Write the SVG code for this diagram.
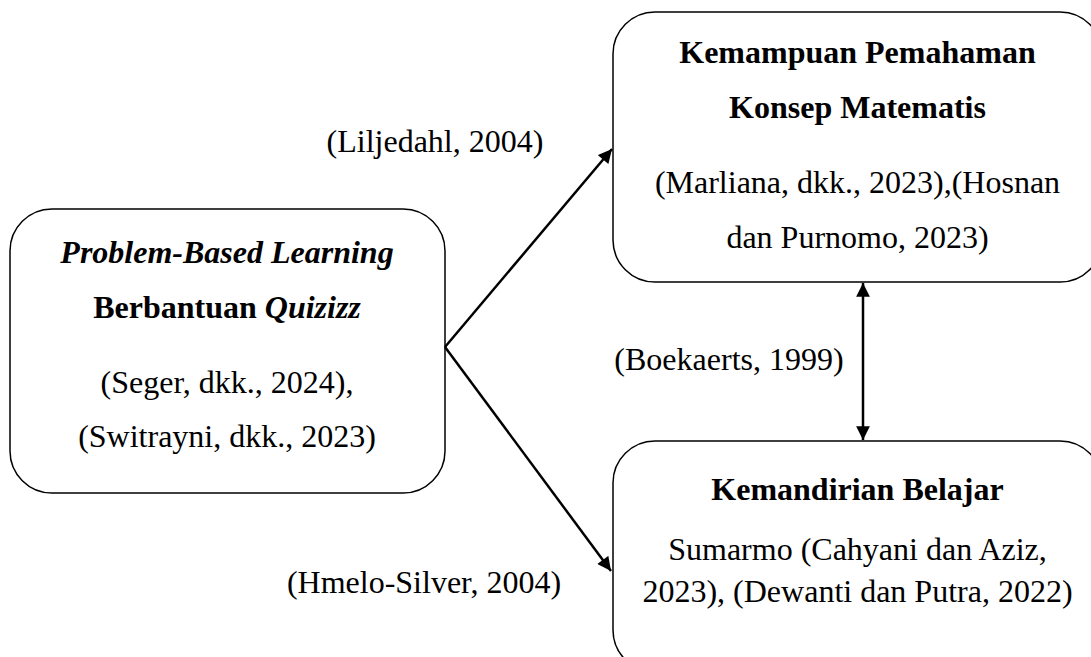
<svg xmlns="http://www.w3.org/2000/svg" width="1091" height="657" viewBox="0 0 1091 657">
<style>
.box{fill:#fff;stroke:#000;stroke-width:1.5}
text{font-family:'Liberation Serif',serif;font-size:32px;fill:#000;text-anchor:middle}
.b{font-weight:bold}
.i{font-style:italic}
.conn{stroke:#000;stroke-width:2.5;fill:none}
</style>
<defs>
<marker id="ah" viewBox="0 0 10 10" refX="10" refY="5" markerWidth="6" markerHeight="5.5" markerUnits="strokeWidth" orient="auto-start-reverse">
<path d="M0,0 L10,5 L0,10 z" fill="#000"/>
</marker>
</defs>
<rect width="1091" height="657" fill="#fff"/>
<g id="node-pbl">
<rect class="box" x="10" y="209" width="435" height="284" rx="42" ry="42"/>
<text x="227" y="263" class="b i" font-family="Liberation Serif">Problem-Based Learning</text>
<text x="227" y="318" class="b" font-family="Liberation Serif">Berbantuan <tspan class="i">Quizizz</tspan></text>
<text x="227" y="393" font-family="Liberation Serif">(Seger, dkk., 2024),</text>
<text x="227" y="447" font-family="Liberation Serif">(Switrayni, dkk., 2023)</text>
</g>
<g id="node-kpkm">
<rect class="box" x="613" y="12" width="489" height="270" rx="42" ry="42"/>
<text x="857.5" y="63" class="b" font-family="Liberation Serif">Kemampuan Pemahaman</text>
<text x="857.5" y="118" class="b" font-family="Liberation Serif">Konsep Matematis</text>
<text x="857.5" y="193" font-family="Liberation Serif">(Marliana, dkk., 2023),(Hosnan</text>
<text x="857.5" y="248" font-family="Liberation Serif">dan Purnomo, 2023)</text>
</g>
<g id="node-kb">
<rect class="box" x="613" y="441" width="489" height="231" rx="42" ry="42"/>
<text x="857.5" y="500" class="b" font-family="Liberation Serif">Kemandirian Belajar</text>
<text x="857.5" y="560" font-family="Liberation Serif">Sumarmo (Cahyani dan Aziz,</text>
<text x="857.5" y="602" font-family="Liberation Serif">2023), (Dewanti dan Putra, 2022)</text>
</g>
<g id="connectors">
<line class="conn" x1="445" y1="347" x2="612" y2="149" marker-end="url(#ah)"/>
<line class="conn" x1="445" y1="347" x2="611" y2="571" marker-end="url(#ah)"/>
<line class="conn" x1="863" y1="283" x2="863" y2="440" marker-start="url(#ah)" marker-end="url(#ah)"/>
</g>
<g id="labels">
<text x="435" y="152" font-family="Liberation Serif">(Liljedahl, 2004)</text>
<text x="729" y="370" font-family="Liberation Serif">(Boekaerts, 1999)</text>
<text x="424" y="593" font-family="Liberation Serif">(Hmelo-Silver, 2004)</text>
</g>
</svg>
